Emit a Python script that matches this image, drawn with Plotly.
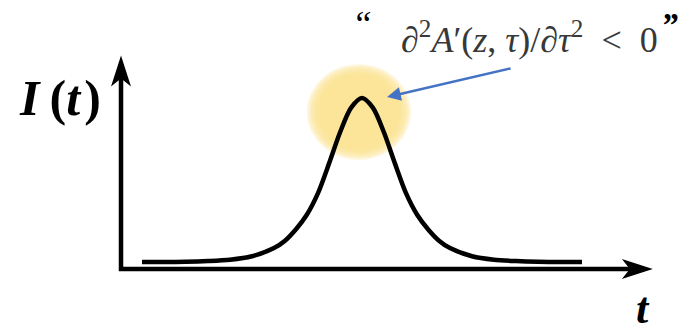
import plotly.graph_objects as go

# Pulse intensity profile I(t), normalised to a peak of 1 at t = 0
t_values = [-5.0, -4.0, -3.5, -3.0, -2.5, -2.0, -1.75, -1.5, -1.25, -1.0, -0.75, -0.5, -0.25,
            0.0, 0.25, 0.5, 0.75, 1.0, 1.25, 1.5, 1.75, 2.0, 2.5, 3.0, 3.5, 4.0, 5.0]
intensity = [0.0, 0.002, 0.006, 0.014, 0.035, 0.085, 0.13, 0.2, 0.29, 0.42, 0.6, 0.79, 0.94,
             1.0, 0.94, 0.79, 0.6, 0.42, 0.29, 0.2, 0.13, 0.085, 0.035, 0.014, 0.006, 0.002, 0.0]

# Labels
y_label = "<b><i>I</i>\u2009(<i>t</i>\u200a)</b>"
x_label = "<b><i>t</i></b>"
condition = "∂<sup>2</sup><i>A</i>′(<i>z</i>, <i>τ</i>)/∂<i>τ</i><sup>2</sup>  &lt;  0"

# Axis frame (data units)
T_RANGE = [-8.227, 7.341]
I_RANGE = [-0.439, 1.598]
T_AXIS_START = -5.477
T_AXIS_END = 6.25
I_AXIS_LEVEL = -0.043
I_AXIS_END = 1.15
T_ARROW_TIP = 6.61
I_ARROW_TIP = 1.26

PEAK_T, PEAK_I = 0.0, 1.0

fig = go.Figure()

# Axes drawn as an L-shaped polyline
fig.add_trace(go.Scatter(
    x=[T_AXIS_START, T_AXIS_START, T_AXIS_END],
    y=[I_AXIS_END, I_AXIS_LEVEL, I_AXIS_LEVEL],
    mode="lines", line=dict(color="black", width=4.5),
    hoverinfo="skip", showlegend=False,
))

# Pulse
fig.add_trace(go.Scatter(
    x=t_values, y=intensity, mode="lines",
    line=dict(color="black", width=4.5, shape="spline", smoothing=0.8),
    hoverinfo="skip", showlegend=False,
))

shapes = []

# Soft yellow glow around the peak: stacked translucent discs
glow_cx, glow_cy = PEAK_T - 0.07, PEAK_I - 0.085
for r in [52, 50, 48, 46, 44, 42, 40]:
    shapes.append(dict(
        type="circle", xref="x", yref="y", xsizemode="pixel", ysizemode="pixel",
        xanchor=glow_cx, yanchor=glow_cy,
        x0=-r, x1=r, y0=-r * 0.92, y1=r * 0.92,
        fillcolor="rgb(253,226,145)", opacity=0.32, line=dict(width=0),
        layer="below",
    ))

# Arrowheads on the axes (pixel-sized stealth heads)
shapes.append(dict(
    type="path", xref="x", yref="y", xsizemode="pixel", ysizemode="pixel",
    xanchor=T_ARROW_TIP, yanchor=I_AXIS_LEVEL,
    path="M0,0 L-31,10 L-23,0 L-31,-10 Z",
    fillcolor="black", line=dict(width=0),
))
shapes.append(dict(
    type="path", xref="x", yref="y", xsizemode="pixel", ysizemode="pixel",
    xanchor=T_AXIS_START, yanchor=I_ARROW_TIP,
    path="M0,0 L-10,-31 L0,-23 L10,-31 Z",
    fillcolor="black", line=dict(width=0),
))

annotations = [
    dict(x=-6.86, y=1.0, xref="x", yref="y", text=y_label, showarrow=False,
         font=dict(family="Liberation Serif", size=50, color="black")),
    dict(x=6.39, y=-0.285, xref="x", yref="y", text=x_label, showarrow=False,
         font=dict(family="Liberation Serif", size=44, color="black")),
    dict(x=3.8, y=1.37, xref="x", yref="y", text=condition, showarrow=False,
         font=dict(family="Liberation Serif", size=36, color="#383838")),
    dict(x=0.0, y=1.45, xref="x", yref="y", text="<i>“</i>", showarrow=False,
         font=dict(family="Liberation Serif", size=36, color="black")),
    dict(x=6.98, y=1.45, xref="x", yref="y", text="<b><i>”</i></b>", showarrow=False,
         font=dict(family="Liberation Serif", size=34, color="black")),
    # Blue pointer to the peak
    dict(x=0.57, y=1.006, xref="x", yref="y", text="", showarrow=True,
         ax=125, ay=-29, arrowhead=2, arrowsize=1.1, arrowwidth=2.5,
         arrowcolor="#4472C4", standoff=0),
]

fig.update_layout(
    width=685, height=334,
    margin=dict(l=0, r=0, t=0, b=0),
    paper_bgcolor="white", plot_bgcolor="white",
    xaxis=dict(range=T_RANGE, visible=False, fixedrange=True),
    yaxis=dict(range=I_RANGE, visible=False, fixedrange=True),
    shapes=shapes, annotations=annotations,
    showlegend=False,
)

fig.write_html("out.html")
